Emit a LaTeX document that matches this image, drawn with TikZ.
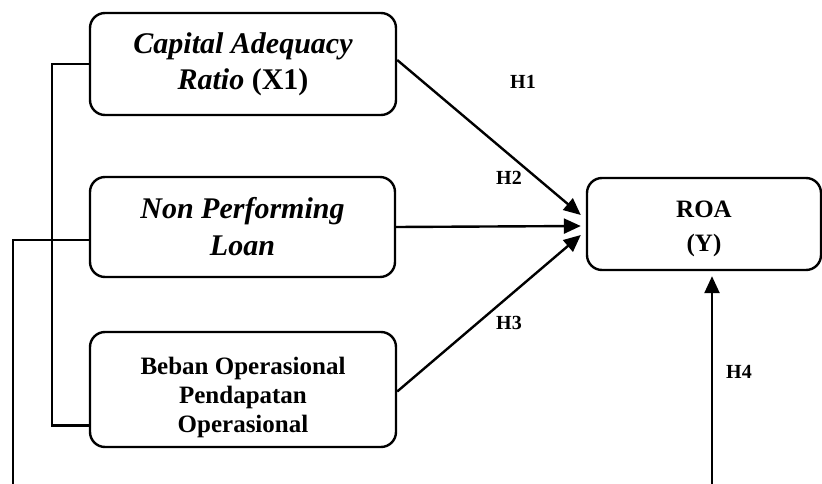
\documentclass[tikz,border=0pt]{standalone}
\usepackage{fontspec}
\setmainfont{Liberation Serif}
\usetikzlibrary{arrows.meta}
\usetikzlibrary{positioning}
\usetikzlibrary{calc}

\tikzset{
  varbox/.style={draw,line width=2.4pt,rounded corners=15pt,align=center,inner sep=0pt},
  link/.style={line width=2.4pt},
  arr/.style={line width=2.4pt,-{Triangle[length=17pt,width=15pt]}},
  hlabel/.style={font=\fontsize{20}{24}\selectfont\bfseries}
}

\begin{document}
\begin{tikzpicture}[line cap=butt,line join=miter,x=1pt,y=-1pt]
\useasboundingbox (0,0) rectangle (822,484);
% variables
\node[varbox,minimum width=306pt,minimum height=102pt,
  font=\fontsize{30}{36}\selectfont\bfseries\itshape] (x1) at (243,64)
  {Capital Adequacy\\Ratio \upshape(X1)};
\node[varbox,minimum width=305pt,minimum height=100pt,
  font=\fontsize{30}{37}\selectfont\bfseries\itshape] (npl) at (242.5,227)
  {Non Performing\\Loan};
\node[varbox,minimum width=306pt,minimum height=115pt] (bopo) at (243,389.5) {};
\node[align=center,font=\fontsize{25}{29}\selectfont\bfseries]
  (bopotext) at ($(bopo)+(0,8)$) {Beban Operasional\\Pendapatan\\Operasional};
\node[varbox,minimum width=234pt,minimum height=92pt] (roa) at (704,224) {};
\node[align=center,font=\fontsize{25}{34}\selectfont\bfseries]
  (roatext) at ($(roa)+(0,5)$) {ROA\\(Y)};
% arrow ends
\coordinate (e1) at ($(roa.west)+(-5,-9)$);
\coordinate (e2) at ($(roa.west)+(-5,2)$);
\coordinate (e3) at ($(roa.west)+(-5,11)$);
\coordinate (h4start) at (712,484);
\coordinate (lowin) at (13,484);
% hypotheses
\draw[arr] ($(x1.east)+(0,-4)$) -- (e1);
\draw[arr] (npl.east) -- (e2);
\draw[arr] ($(bopo.east)+(0,2)$) -- (e3);
\draw[arr,shorten >=5pt] (h4start) -- (h4start |- roa.south);
% brackets on the left
\draw[link] (x1.west) -- ++(-37,0) |- ($(bopo.west)+(2,36)$);
\draw[link] ($(npl.west)+(0,13)$) -| (lowin);
% labels
\node[hlabel] (h1) at (523,82) {H1};
\node[hlabel] (h2) at (509,178) {H2};
\node[hlabel] (h3) at (509,323) {H3};
\node[hlabel] (h4) at (739,372) {H4};
\end{tikzpicture}
\end{document}
